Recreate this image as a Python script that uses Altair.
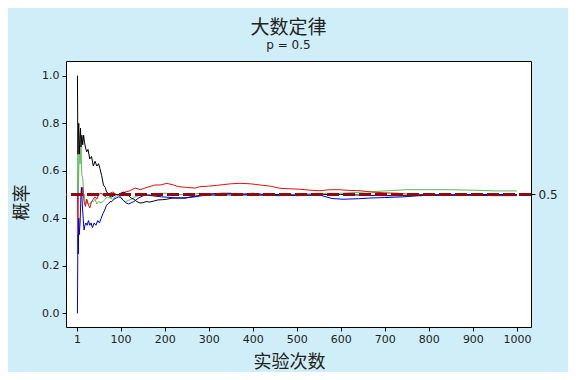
import altair as alt
import pandas as pd

# ---- data (running proportion of successes) ----
black_t = [1,2,3,4,5,6,7,8,9,10,12,14,16,18,20,23,26,30,34,38,42,46,50,53,57,61,65,68,72,76,80,85,90,95,100,106,112,118,124,130,137,144,150,158,166,175,185,195,205,215,230,246,260,275,290,310,330,350,375,400,425,450,475,500,530,560,600,650,700,750,800,850,900,950,1000]
black_v = [1.0,1.0,0.67,0.75,0.8,0.67,0.71,0.75,0.78,0.7,0.75,0.71,0.75,0.72,0.70,0.68,0.69,0.65,0.66,0.62,0.64,0.62,0.63,0.61,0.58,0.54,0.53,0.51,0.505,0.49,0.49,0.495,0.50,0.498,0.505,0.51,0.505,0.495,0.485,0.48,0.47,0.464,0.465,0.47,0.468,0.472,0.477,0.478,0.48,0.484,0.486,0.484,0.49,0.495,0.50,0.503,0.505,0.505,0.50,0.505,0.50,0.50,0.498,0.495,0.497,0.50,0.50,0.497,0.495,0.495,0.497,0.498,0.50,0.50,0.50]

red_t = [2,3,4,6,8,10,12,14,17,20,23,26,30,34,38,42,46,50,55,60,65,70,76,82,90,100,110,120,133,145,160,178,190,205,220,231,250,269,280,300,326,350,371,395,417,440,462,485,507,530,553,575,598,620,644,670,700,730,760,800,850,900,950,1000]
red_v = [0.5,0.33,0.5,0.5,0.5,0.5,0.5,0.53,0.47,0.45,0.48,0.46,0.443,0.47,0.48,0.49,0.48,0.50,0.505,0.50,0.49,0.50,0.505,0.51,0.50,0.50,0.51,0.515,0.527,0.52,0.53,0.54,0.54,0.547,0.54,0.533,0.53,0.527,0.533,0.535,0.54,0.545,0.547,0.545,0.54,0.535,0.526,0.524,0.522,0.518,0.516,0.52,0.52,0.517,0.516,0.51,0.507,0.505,0.50,0.50,0.497,0.497,0.495,0.495]

green_t = [2,3,4,5,6,7,8,9,10,11,12,14,16,18,20,23,26,30,34,38,42,46,50,55,60,65,70,76,82,88,95,100,106,112,118,125,133,140,150,160,175,190,205,220,240,260,280,300,330,360,400,450,500,550,600,650,700,750,800,850,900,950,1000]
green_v = [0.5,0.67,0.5,0.6,0.67,0.71,0.63,0.67,0.7,0.64,0.58,0.57,0.5,0.5,0.45,0.48,0.46,0.46,0.47,0.47,0.48,0.46,0.47,0.465,0.47,0.48,0.49,0.485,0.48,0.49,0.50,0.49,0.475,0.47,0.475,0.48,0.49,0.495,0.50,0.50,0.50,0.505,0.505,0.50,0.50,0.50,0.505,0.50,0.50,0.505,0.50,0.50,0.50,0.505,0.505,0.51,0.515,0.52,0.52,0.52,0.518,0.515,0.515]

blue_t = [1,2,3,4,5,6,8,10,11,13,15,17,19,21,24,27,30,33,36,40,44,48,52,56,60,64,68,72,76,80,85,90,95,100,106,112,118,124,130,140,155,170,193,210,231,250,269,285,299,330,370,420,460,507,553,580,605,640,666,700,741,780,820,860,900,950,1000]
blue_v = [0.0,0.0,0.33,0.25,0.4,0.33,0.38,0.5,0.53,0.46,0.4,0.35,0.37,0.38,0.37,0.39,0.37,0.38,0.36,0.38,0.37,0.39,0.38,0.40,0.42,0.435,0.455,0.46,0.47,0.47,0.48,0.485,0.49,0.488,0.475,0.465,0.46,0.465,0.47,0.484,0.498,0.495,0.49,0.488,0.484,0.487,0.49,0.495,0.497,0.498,0.498,0.497,0.495,0.498,0.497,0.483,0.48,0.482,0.485,0.487,0.49,0.495,0.497,0.498,0.497,0.497,0.497]

x_ticks = [1, 100, 200, 300, 400, 500, 600, 700, 800, 900, 1000]
y_ticks = [0.0, 0.2, 0.4, 0.6, 0.8, 1.0]
p_value = 0.5

series_names = ["green", "red", "black", "blue"]
series_colors = ["#5fb85f", "#dd1111", "#000000", "#0000cc"]
series_data = {"green": (green_t, green_v), "red": (red_t, red_v),
               "black": (black_t, black_v), "blue": (blue_t, blue_v)}

frames = []
for name in series_names:
    t, v = series_data[name]
    frames.append(pd.DataFrame({"trial": t, "prob": v, "series": name}))
df = pd.concat(frames, ignore_index=True)

xscale = alt.Scale(domain=[-24, 1032], nice=False, zero=False)
yscale = alt.Scale(domain=[-0.059, 1.063], nice=False, zero=False)

LBL = "DejaVu Sans"
CJK = "Noto Sans CJK SC"

x_axis = alt.Axis(values=x_ticks, format="d", title="实验次数", grid=False, domain=False,
                  tickSize=4, tickColor="#000", labelFont=LBL, labelFontSize=11, labelColor="#222",
                  labelPadding=2, titleFont=CJK, titleFontSize=18, titleFontWeight="normal",
                  titleColor="#222", titleX=223, titleY=35, titleBaseline="middle", titleAlign="center")
y_axis = alt.Axis(values=y_ticks, format=".1f", title="概率", grid=False, domain=False,
                  tickSize=4, tickColor="#000", labelFont=LBL, labelFontSize=11, labelColor="#222",
                  labelPadding=3, titleFont=CJK, titleFontSize=18, titleFontWeight="normal",
                  titleColor="#222", titleX=-44, titleY=141, titleBaseline="middle", titleAlign="center",
                  titleAngle=270)

lines = alt.Chart(df).mark_line(strokeWidth=1, clip=True).encode(
    x=alt.X("trial:Q", scale=xscale, axis=x_axis),
    y=alt.Y("prob:Q", scale=yscale, axis=y_axis),
    color=alt.Color("series:N", scale=alt.Scale(domain=series_names, range=series_colors), legend=None),
)

ref_df = pd.DataFrame({"p": [p_value]})
ref = alt.Chart(ref_df).mark_rule(color="#8b0a14", strokeWidth=3, strokeDash=[12, 4]).encode(
    y=alt.Y("p:Q", scale=yscale,
            axis=alt.Axis(orient="right", values=[p_value], format=".1f", title=None, grid=False,
                          domain=False, tickSize=4, tickColor="#000", labelFont=LBL, labelFontSize=12,
                          labelColor="#222", labelPadding=3))
)

chart = alt.layer(lines, ref).resolve_axis(y="independent").properties(
    width=465, height=266,
    autosize=alt.AutoSizeParams(type="none"),
    padding={"left": 58, "top": 53, "right": 37, "bottom": 45},
    background="#cfeef7",
    title=alt.TitleParams(text="大数定律", subtitle="p = 0.5", anchor="middle", dx=-10,
                          font=CJK, fontSize=19, fontWeight="normal", color="#222",
                          subtitleFont=LBL, subtitleFontSize=12, subtitleColor="#222",
                          subtitlePadding=2, offset=10),
).configure_view(stroke="#000", strokeWidth=1, fill="white")

chart.save("out.html", embed_options={"renderer": "svg", "actions": False})
